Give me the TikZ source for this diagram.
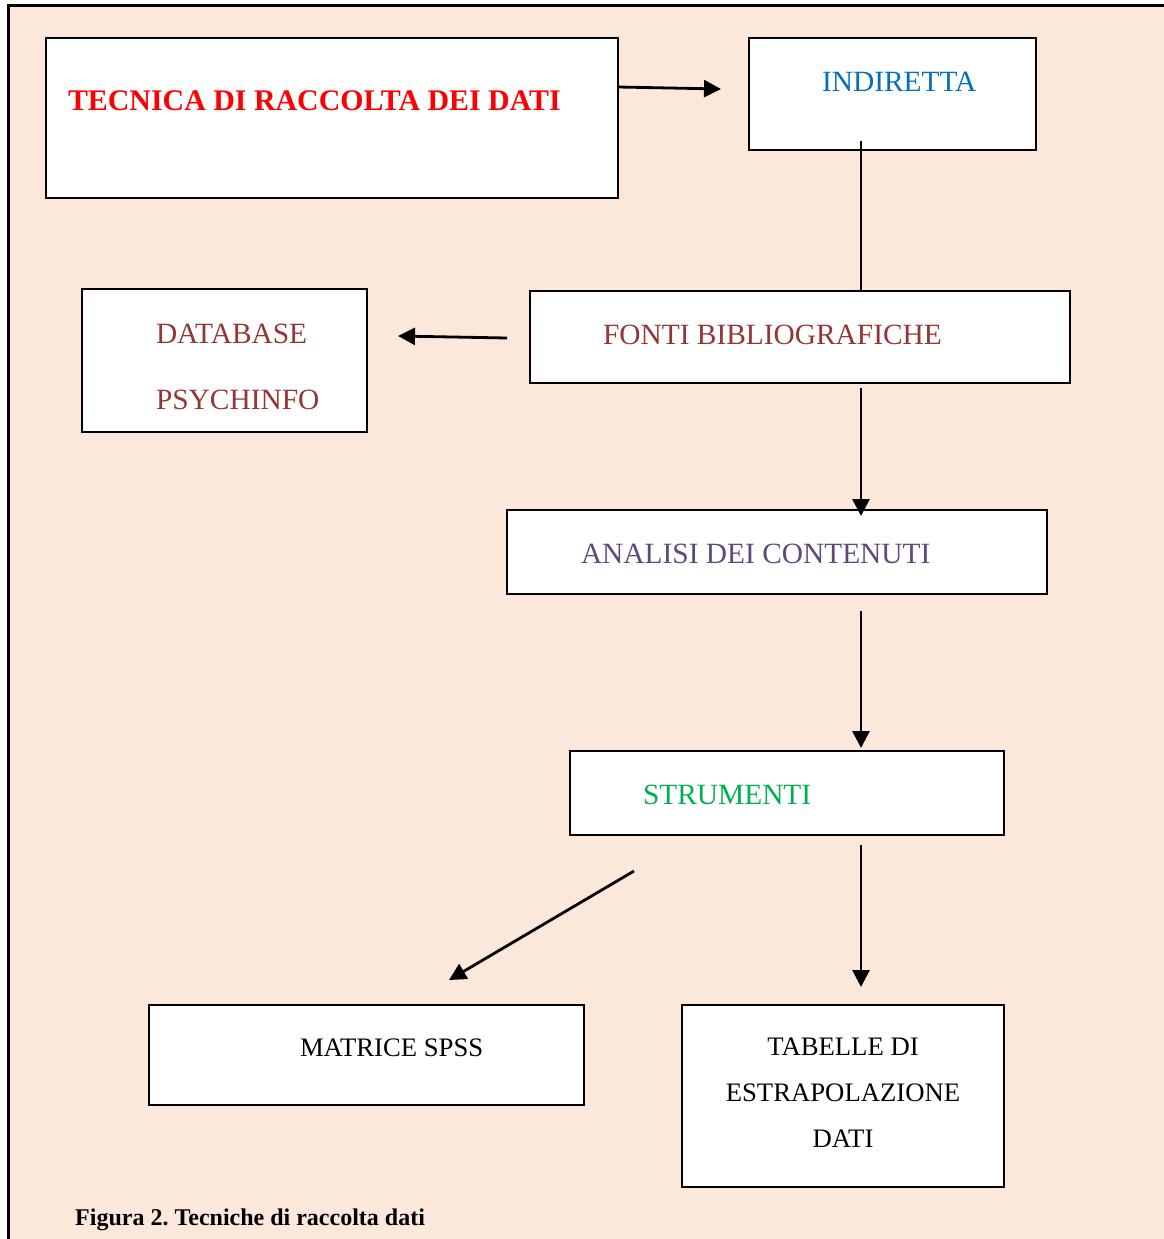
\documentclass[tikz,border=0pt]{standalone}
\usepackage{fontspec}
\setmainfont{Liberation Serif}
\usetikzlibrary{arrows.meta}
\definecolor{bgpeach}{HTML}{FCE8DA}
\definecolor{tred}{HTML}{FF0000}
\definecolor{tblue}{HTML}{0070C0}
\definecolor{tdred}{HTML}{943634}
\definecolor{tpurple}{HTML}{5F497A}
\definecolor{tgreen}{HTML}{00B050}
\frenchspacing
\tikzset{
  boxnode/.style={draw=black, fill=white, line width=2.3pt, rectangle, inner sep=0pt, outer sep=0pt},
  lbl/.style={inner sep=0pt, outer sep=0pt, font=\fontsize{29.4}{35}\selectfont},
  slbl/.style={inner sep=0pt, outer sep=0pt, font=\fontsize{26.7}{32}\selectfont},
  conn/.style={line width=2.8pt, draw=black},
  arr/.style={conn, -{Triangle[length=17pt,width=17pt]}},
}
\begin{document}
\begin{tikzpicture}[x=1pt,y=-1pt]
\useasboundingbox (0,0) rectangle (1164,1239);
\fill[bgpeach] (8,6) rectangle (1170,1245);
\draw[line width=3pt] (8,1245) -- (8,6) -- (1170,6);

% boxes
\node[boxnode, minimum width=572pt, minimum height=160pt] (btec) at (332,118) {};
\node[boxnode, minimum width=287pt, minimum height=112pt] (bind) at (892.5,94) {};
\node[boxnode, minimum width=540pt, minimum height=92pt] (bfon) at (800,337) {};
\node[boxnode, minimum width=285pt, minimum height=143pt] (bdb) at (224.5,360.5) {};
\node[boxnode, minimum width=540pt, minimum height=84pt] (bana) at (777,552) {};
\node[boxnode, minimum width=434pt, minimum height=84pt] (bstr) at (787,793) {};
\node[boxnode, minimum width=435pt, minimum height=100pt] (bmat) at (366.5,1055) {};
\node[boxnode, minimum width=322pt, minimum height=182pt] (btab) at (843,1096) {};

% texts
\node[lbl, anchor=base west, text=tred, font=\fontsize{29.9}{35}\selectfont\bfseries] (ttec) at (68,110) {TECNICA DI RACCOLTA DEI DATI};
\node[lbl, anchor=base west, text=tblue] (tind) at (822,92) {INDIRETTA};
\node[lbl, anchor=base west, text=tdred] (tfon) at (603,344) {FONTI BIBLIOGRAFICHE};
\node[lbl, anchor=base west, text=tdred] (tdb1) at (156,343) {DATABASE};
\node[lbl, anchor=base west, text=tdred] (tdb2) at (156,409) {PSYCHINFO};
\node[lbl, anchor=base west, text=tpurple] (tana) at (581,563) {ANALISI DEI CONTENUTI};
\node[lbl, anchor=base west, text=tgreen] (tstr) at (643,804) {STRUMENTI};
\node[slbl, anchor=base west] (tmat) at (300,1056) {MATRICE SPSS};
\node[slbl, anchor=base] (ttab1) at (843,1055) {TABELLE DI};
\node[slbl, anchor=base] (ttab2) at (843,1101) {ESTRAPOLAZIONE};
\node[slbl, anchor=base] (ttab3) at (843,1147) {DATI};
\node[inner sep=0pt, anchor=base west, font=\fontsize{24}{29}\selectfont\bfseries] (cap) at (75,1225) {Figura 2. Tecniche di raccolta dati};

% connector end points
\coordinate (a1s) at (618,87);
\coordinate (a1e) at (721,89);
\coordinate (l1s) at (861,141);
\coordinate (a2s) at (507,338);
\coordinate (a2e) at (398,336);
\coordinate (a3s) at (861,388);
\coordinate (a3e) at (861,516);
\coordinate (a4s) at (861,611);
\coordinate (a4e) at (861,748);
\coordinate (a5s) at (634,871);
\coordinate (a5e) at (449,980);
\coordinate (a6s) at (861,845);
\coordinate (a6e) at (861,987);

\draw[arr] (a1s) -- (a1e);
\draw[conn] (l1s) -- (l1s |- bfon.north);
\draw[arr] (a2s) -- (a2e);
\draw[arr] (a3s) -- (a3e);
\draw[arr] (a4s) -- (a4e);
\draw[arr] (a5s) -- (a5e);
\draw[arr] (a6s) -- (a6e);
\end{tikzpicture}
\end{document}
